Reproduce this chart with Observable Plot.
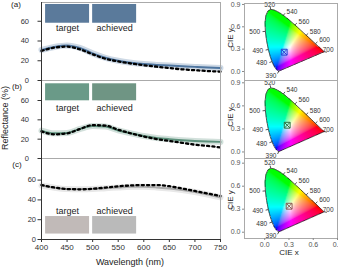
<!DOCTYPE html>
<html><head><meta charset="utf-8">
<script src="https://cdn.jsdelivr.net/npm/d3@7"></script>
<script src="https://cdn.jsdelivr.net/npm/@observablehq/plot@0.6"></script>
<style>
body{margin:0;background:#fff;}
#c{position:relative;width:338px;height:269px;overflow:hidden;font-family:"Liberation Sans",Arial,sans-serif;color:#222;}
#c > *{position:absolute;}
.t{white-space:nowrap;transform:translate(-50%,-50%);line-height:1;}
.r{transform:translate(-50%,-50%) rotate(-90deg);}
</style></head><body><div id="c"></div>
<script>
// ---- data ----
const wavelengths = [400,425,450,475,500,525,550,575,600,625,650,675,700,725,750];
const targetA   = [30,33.3,34.3,31.5,26.5,22,19.3,17.2,15.5,14,12.6,11.3,10.4,9.6,9];
const achievedA = [31,34,35.5,33,27.5,23,20,18,16.6,15.8,15.2,14.5,13.8,13.2,12.7];
const targetB   = [28,25,26,30.5,34.5,34,29.8,26,22.8,20.1,18.2,16.2,14.3,13,11.5];
const achievedB = [28.8,26,26.5,30.5,33.5,33,29,26,23.3,21.3,20,19,18.2,17.6,17.2];
const targetC   = [55,52.5,51,50.7,51.2,52.4,53.7,54.6,55,55,53.8,51.5,49,46.5,44];
const achievedC = [54.5,52.3,51,50.8,51,51.8,52.5,53.2,53.2,52.6,51.5,50,48,45.5,42.5];
const swatchTarget   = ["#5b7a9b","#6a9a88","#c1bab8"];
const swatchAchieved = ["#5a7a9b","#6f9584","#bababa"];
const lineColors     = ["#4f76a0","#5d917c","#ababab"];
const markerColors   = ["#2a44d4","#2e7040","#8a5a50"];
const cieTarget   = [[0.241,0.259],[0.278,0.348],[0.302,0.339]];
const cieAchieved = [[0.241,0.259],[0.278,0.348],[0.302,0.339]];
const panelLetters = ["(a)","(b)","(c)"];
const swatchLabels = ["target","achieved"];
const wlTicks = [400,450,500,550,600,650,700,750];
const reflTicks = [0,20,40,60];
const cieTicks = [0,0.3,0.6,0.9];
// CIE 1931 spectral locus
const locusNm = [390,395,400,405,410,415,420,425,430,435,440,445,450,455,460,465,470,475,480,485,490,495,500,505,510,515,520,525,530,535,540,545,550,555,560,565,570,575,580,585,590,595,600,605,610,615,620,625,630,635,640,645,650,655,660,665,670,680,690,700];
const locusX = [0.1738,0.1736,0.1733,0.1730,0.1726,0.1721,0.1714,0.1703,0.1689,0.1669,0.1644,0.1611,0.1566,0.1510,0.1440,0.1355,0.1241,0.1096,0.0913,0.0687,0.0454,0.0235,0.0082,0.0039,0.0139,0.0389,0.0743,0.1142,0.1547,0.1929,0.2296,0.2658,0.3016,0.3373,0.3731,0.4087,0.4441,0.4788,0.5125,0.5448,0.5752,0.6029,0.6270,0.6482,0.6658,0.6801,0.6915,0.7006,0.7079,0.7140,0.7190,0.7230,0.7260,0.7283,0.7300,0.7311,0.7320,0.7334,0.7344,0.7347];
const locusY = [0.0049,0.0049,0.0048,0.0048,0.0048,0.0048,0.0051,0.0058,0.0069,0.0086,0.0109,0.0138,0.0177,0.0227,0.0297,0.0399,0.0578,0.0868,0.1327,0.2007,0.2950,0.4127,0.5384,0.6548,0.7502,0.8120,0.8338,0.8262,0.8059,0.7816,0.7543,0.7243,0.6923,0.6589,0.6245,0.5896,0.5547,0.5202,0.4866,0.4544,0.4242,0.3965,0.3725,0.3514,0.3340,0.3197,0.3083,0.2993,0.2920,0.2859,0.2809,0.2770,0.2740,0.2717,0.2700,0.2689,0.2680,0.2666,0.2656,0.2653];
const labelNm = [390,480,490,500,520,540,560,580,600,700];

const targets = [targetA,targetB,targetC];
const achieved = [achievedA,achievedB,achievedC];

// ---- helpers ----
const C = document.getElementById("c");
function place(el, left, top){ el.style.left = left+"px"; el.style.top = top+"px"; C.appendChild(el); }
function label(text, cx, cy, size, rot){
  const d = document.createElement("div");
  d.className = "t" + (rot ? " r" : "");
  d.textContent = text; d.style.fontSize = size+"px";
  place(d, cx, cy);
}
const baseStyle = {background:"transparent", overflow:"visible", fontFamily:'"Liberation Sans",Arial,sans-serif', fontSize:"8px", color:"#333"};

function leftPanel(i, o){
  const data = wavelengths.map((w,k)=>({w, t: targets[i][k], a: achieved[i][k]}));
  const sw = [{x1:408,x2:494,fill:swatchTarget[i],label:swatchLabels[0]},{x1:500,x2:586,fill:swatchAchieved[i],label:swatchLabels[1]}];
  const marks = [
    Plot.rect(sw, {x1:"x1", x2:"x2", y1:o.sw[0], y2:o.sw[1], fill:"fill"}),
    Plot.text(sw, {x:d=>(d.x1+d.x2)/2, y:o.ly, text:"label", fontSize:9, fill:"#222"}),
    Plot.line(data, {x:"w", y:"a", stroke:lineColors[i], strokeWidth:6, strokeOpacity:0.28, curve:"monotone-x"}),
    Plot.line(data, {x:"w", y:"a", stroke:lineColors[i], strokeWidth:2, curve:"monotone-x"}),
    Plot.line(data, {x:"w", y:"t", stroke:"#000", strokeWidth:2.3, strokeDasharray:"2.2,3.1", curve:"monotone-x"}),
    Plot.frame({stroke:"#aaa"}),
    Plot.ruleX([400], {stroke:"#333"}),
    Plot.ruleY([0], {stroke:"#333"}),
    Plot.axisY({ticks:reflTicks, tickSize:3.5, tickPadding:o.tp, fontSize:7.5, label:null, stroke:"#333", fill:"#333"})
  ];
  if (o.bottom) marks.push(Plot.axisX({ticks:wlTicks, tickSize:3, tickPadding:2, fontSize:8, label:null, stroke:"#333", fill:"#333"}));
  const p = Plot.plot({width:224, height:o.h, marginLeft:41, marginRight:4, marginTop:o.mt, marginBottom:o.mb,
    x:{domain:[400,750], axis:null}, y:{domain:[0,o.ymax], axis:null}, style:baseStyle, marks});
  place(p, 0, o.top);
}

// CIE colour
const poly = locusNm.map((_,k)=>[locusX[k], locusY[k]]);
function cieColor(x, y){
  if (y <= 0 || !d3.polygonContains(poly, [x,y])) return null;
  const X = x/y, Y = 1, Z = (1-x-y)/y;
  let r = 3.2406*X - 1.5372*Y - 0.4986*Z;
  let g = -0.9689*X + 1.8758*Y + 0.0415*Z;
  let b = 0.0557*X - 0.2040*Y + 1.0570*Z;
  r = Math.max(0,r); g = Math.max(0,g); b = Math.max(0,b);
  const M = Math.max(r,g,b) || 1;
  const gm = v => { v /= M; return 255*(v <= 0.0031308 ? 12.92*v : 1.055*Math.pow(v,1/2.4)-0.055); };
  return d3.rgb(gm(r), gm(g), gm(b)).formatRgb();
}
const locusRows = poly.map(([x,y])=>({x,y}));
locusRows.push({...locusRows[0]});
const W = [1/3,1/3];
const last = locusNm.length-1;
const labelRows = labelNm.map(nm=>{
  const k = locusNm.indexOf(nm);
  const x = locusX[k], y = locusY[k];
  let nx, ny;
  if (k === 0 || k === last){ nx = x-W[0]; ny = y-W[1]; }
  else {
    const tx = locusX[k+1]-locusX[k-1], ty = locusY[k+1]-locusY[k-1];
    nx = -ty; ny = tx;
    if (nx*(x-W[0]) + ny*(y-W[1]) < 0){ nx=-nx; ny=-ny; }
  }
  const L = Math.hypot(nx,ny); nx/=L; ny/=L;
  const off = k === last ? 0.05 : 0.065;
  return {nm:String(nm), x, y, tx:x+nx*0.035, ty:y+ny*0.035, lx:x+nx*off, ly:y+ny*off + (k===last?0.035:0),
    anchor: k === last ? "middle" : nx < -0.4 ? "end" : nx > 0.4 ? "start" : "middle"};
});

function ciePanel(i, o){
  const marks = [
    Plot.raster({fill:cieColor, x1:0, x2:0.74, y1:0, y2:0.84}),
    Plot.line(locusRows, {x:"x", y:"y", stroke:"#111", strokeWidth:0.7}),
    Plot.link(labelRows, {x1:"x", y1:"y", x2:"tx", y2:"ty", stroke:"#111", strokeWidth:0.7})
  ];
  for (const a of ["start","middle","end"]){
    marks.push(Plot.text(labelRows.filter(d=>d.anchor===a), {x:"lx", y:"ly", text:"nm", textAnchor:a, fontSize:6.5, fill:"#333"}));
  }
  marks.push(
    Plot.dot([cieTarget[i]], {x:d=>d[0], y:d=>d[1], symbol:"square", r:3.3, stroke:markerColors[i], strokeWidth:1}),
    Plot.dot([cieAchieved[i]], {x:d=>d[0], y:d=>d[1], symbol:"times", r:2.6, stroke:markerColors[i], strokeWidth:1}),
    Plot.frame({stroke:"#aaa"}),
    Plot.axisY({ticks:cieTicks, tickFormat:".1f", tickSize:2, tickPadding:2, fontSize:7, label:null, stroke:"#888", fill:"#555"})
  );
  if (o.bottom) marks.push(Plot.axisX({ticks:cieTicks, tickFormat:".1f", tickSize:2, tickPadding:1.5, fontSize:7, label:null, stroke:"#888", fill:"#555"}));
  const p = Plot.plot({width:116, height:o.h, marginLeft:22, marginRight:1, marginTop:o.mt, marginBottom:o.mb,
    x:{domain:[-0.25,0.9], axis:null}, y:{domain:o.yd, axis:null}, style:baseStyle, marks});
  place(p, 222, o.top);
}

leftPanel(0, {top:0, h:80, mt:2, mb:0, ymax:79, sw:[58,77], ly:53.5, tp:9});
leftPanel(1, {top:80, h:78, mt:0, mb:0, ymax:80.7, sw:[59.7,77.3], ly:52.5, tp:9});
leftPanel(2, {top:158, h:111, mt:0, mb:30, ymax:81.8, sw:[5.5,23.2], ly:29, tp:2, bottom:true});

ciePanel(0, {top:0, h:80, mt:3, mb:0, yd:[-0.121,0.913]});
ciePanel(1, {top:80, h:78, mt:0, mb:0, yd:[-0.085,0.93]});
ciePanel(2, {top:158, h:100, mt:0, mb:20, yd:[-0.082,0.961], bottom:true});

label(panelLetters[0], 16, 5, 8);
label(panelLetters[1], 17, 86.5, 8);
label(panelLetters[2], 17, 164.5, 8);
label("Reflectance (%)", 5, 118, 9, true);
label("Wavelength (nm)", 130, 262, 9);
label("CIE y", 230.5, 38, 8, true);
label("CIE y", 230.5, 117, 8, true);
label("CIE y", 230.5, 200, 8, true);
label("CIE x", 289, 252.5, 8);
</script></body></html>
